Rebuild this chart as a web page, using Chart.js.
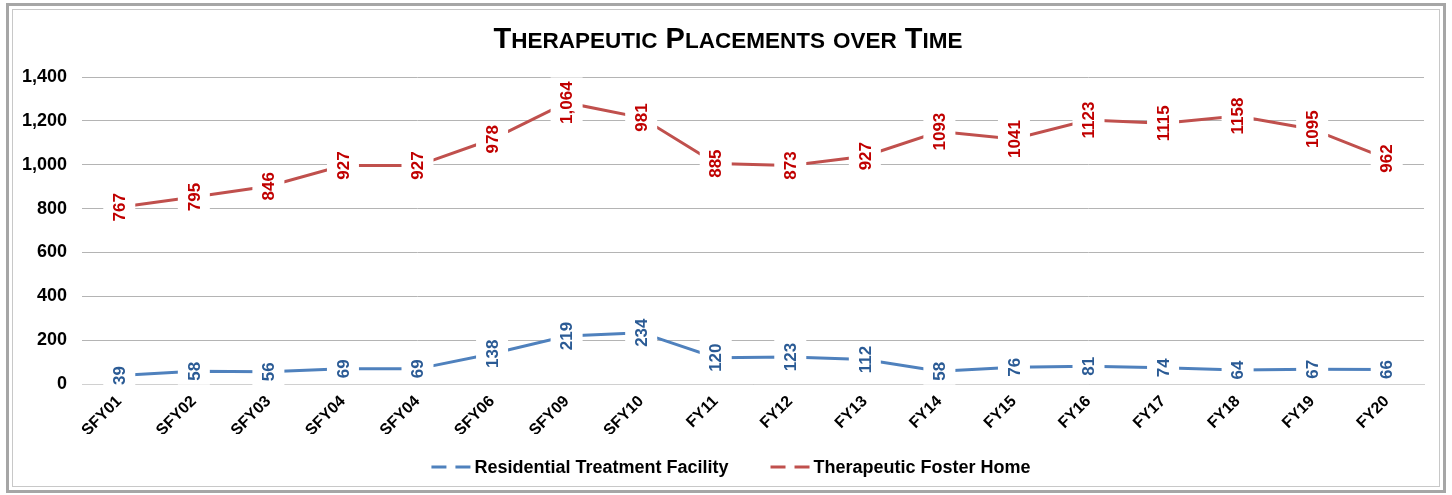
<!DOCTYPE html>
<html><head><meta charset="utf-8">
<script src="https://cdn.jsdelivr.net/npm/chart.js@4/dist/chart.umd.min.js"></script>
<style>html,body{margin:0;padding:0;background:#fff;overflow:hidden}#wrap{position:relative;width:1452px;height:495px}</style>
</head><body><div id="wrap"><canvas id="c" width="1452" height="495"></canvas></div>
<script>
const categories = ['SFY01','SFY02','SFY03','SFY04','SFY04','SFY06','SFY09','SFY10','FY11','FY12','FY13','FY14','FY15','FY16','FY17','FY18','FY19','FY20'];
const rtfValues = [39,58,56,69,69,138,219,234,120,123,112,58,76,81,74,64,67,66];
const tfhValues = [767,795,846,927,927,978,1064,981,885,873,927,1093,1041,1123,1115,1158,1095,962];
const rtfLabels = ['39','58','56','69','69','138','219','234','120','123','112','58','76','81','74','64','67','66'];
const tfhLabels = ['767','795','846','927','927','978','1,064','981','885','873','927','1093','1041','1123','1115','1158','1095','962'];
const yTickValues = [0,200,400,600,800,1000,1200,1400];
const chartTitle = 'Therapeutic Placements over Time';
const seriesNames = ['Residential Treatment Facility','Therapeutic Foster Home'];

const FONT = '"Liberation Sans", Arial, sans-serif';
const lineColors = ['#4f81bd', '#c0504d'];
const labelColors = ['#2b5b95', '#c00000'];
const pointLabels = [rtfLabels, tfhLabels];

const decorPlugin = {
  id: 'decor',
  beforeDraw(chart) {
    const ctx = chart.ctx;
    ctx.save();
    ctx.fillStyle = '#fff';
    ctx.fillRect(0, 0, chart.width, chart.height);
    ctx.strokeStyle = '#a6a6a6';
    ctx.lineWidth = 3;
    ctx.strokeRect(7.5, 4.5, 1437, 487);
    ctx.strokeStyle = '#c8c8c8';
    ctx.lineWidth = 1;
    ctx.strokeRect(12.5, 9.5, 1427, 477);
    ctx.restore();
  },
  afterDatasetsDraw(chart) {
    const ctx = chart.ctx;
    ctx.save();
    ctx.font = 'bold 17px ' + FONT;
    ctx.textAlign = 'center';
    ctx.textBaseline = 'middle';
    chart.data.datasets.forEach((ds, di) => {
      const meta = chart.getDatasetMeta(di);
      meta.data.forEach((el, i) => {
        const txt = pointLabels[di][i];
        const w = ctx.measureText(txt).width;
        ctx.save();
        ctx.translate(el.x, el.y);
        ctx.rotate(-Math.PI / 2);
        ctx.fillStyle = '#fff';
        ctx.fillRect(-w / 2 - 4, -16, w + 8, 32);
        ctx.fillStyle = labelColors[di];
        ctx.fillText(txt, 0, 1);
        ctx.restore();
      });
    });
    ctx.restore();
  },
  afterDraw(chart) {
    const ctx = chart.ctx;
    ctx.save();
    const big = 'bold 29px ' + FONT, small = 'bold 22.5px ' + FONT;
    const parts = [];
    let total = 0;
    for (const ch of chartTitle) {
      const isSmall = ch !== ch.toUpperCase();
      ctx.font = isSmall ? small : big;
      const c = ch.toUpperCase();
      const w = ctx.measureText(c).width;
      parts.push({c, f: ctx.font, w});
      total += w;
    }
    let x = 728 - total / 2;
    ctx.fillStyle = '#000';
    ctx.textBaseline = 'alphabetic';
    ctx.textAlign = 'left';
    for (const p of parts) { ctx.font = p.f; ctx.fillText(p.c, x, 48); x += p.w; }
    ctx.font = 'bold 18px ' + FONT;
    const sample = 39, gapT = 4, gapI = 42;
    const w0 = ctx.measureText(seriesNames[0]).width, w1 = ctx.measureText(seriesNames[1]).width;
    const tot = sample + gapT + w0 + gapI + sample + gapT + w1;
    let lx = 731 - tot / 2;
    const ly = 467;
    [0, 1].forEach(i => {
      ctx.strokeStyle = lineColors[i];
      ctx.lineWidth = 3;
      ctx.setLineDash([15, 9]);
      ctx.beginPath(); ctx.moveTo(lx, ly); ctx.lineTo(lx + sample, ly); ctx.stroke();
      ctx.setLineDash([]);
      ctx.fillStyle = '#000';
      ctx.textBaseline = 'middle';
      ctx.fillText(seriesNames[i], lx + sample + gapT, ly + 1);
      lx += sample + gapT + (i === 0 ? w0 : w1) + gapI;
    });
    ctx.restore();
  }
};

new Chart(document.getElementById('c'), {
  type: 'line',
  data: {
    labels: categories,
    datasets: [
      { label: seriesNames[0], data: rtfValues, borderColor: lineColors[0], backgroundColor: lineColors[0], borderWidth: 3, pointRadius: 0, fill: false, tension: 0 },
      { label: seriesNames[1], data: tfhValues, borderColor: lineColors[1], backgroundColor: lineColors[1], borderWidth: 3, pointRadius: 0, fill: false, tension: 0 }
    ]
  },
  options: {
    responsive: false,
    devicePixelRatio: 1,
    animation: false,
    layout: { padding: { left: 22, right: 28, top: 77, bottom: 61 } },
    plugins: { legend: { display: false }, title: { display: false }, tooltip: { enabled: false } },
    scales: {
      x: {
        offset: true,
        grid: { display: false, drawTicks: false },
        border: { display: true, color: '#d0d0d0', width: 1 },
        ticks: { font: { family: FONT, size: 16, weight: 'bold' }, color: '#000', minRotation: 45, maxRotation: 45, padding: 8, autoSkip: false },
        afterFit(s) { s.height = 50; }
      },
      y: {
        stacked: true,
        min: 0, max: 1400,
        afterBuildTicks(s) { s.ticks = yTickValues.map(v => ({ value: v })); },
        grid: { color: '#b4b4b4', lineWidth: 1, drawTicks: false },
        border: { display: false },
        ticks: { font: { family: FONT, size: 18, weight: 'bold' }, color: '#000', padding: 15, callback: v => v.toLocaleString('en-US') },
        afterFit(s) { s.width = 60; }
      }
    }
  },
  plugins: [decorPlugin]
});
</script>
</body></html>
